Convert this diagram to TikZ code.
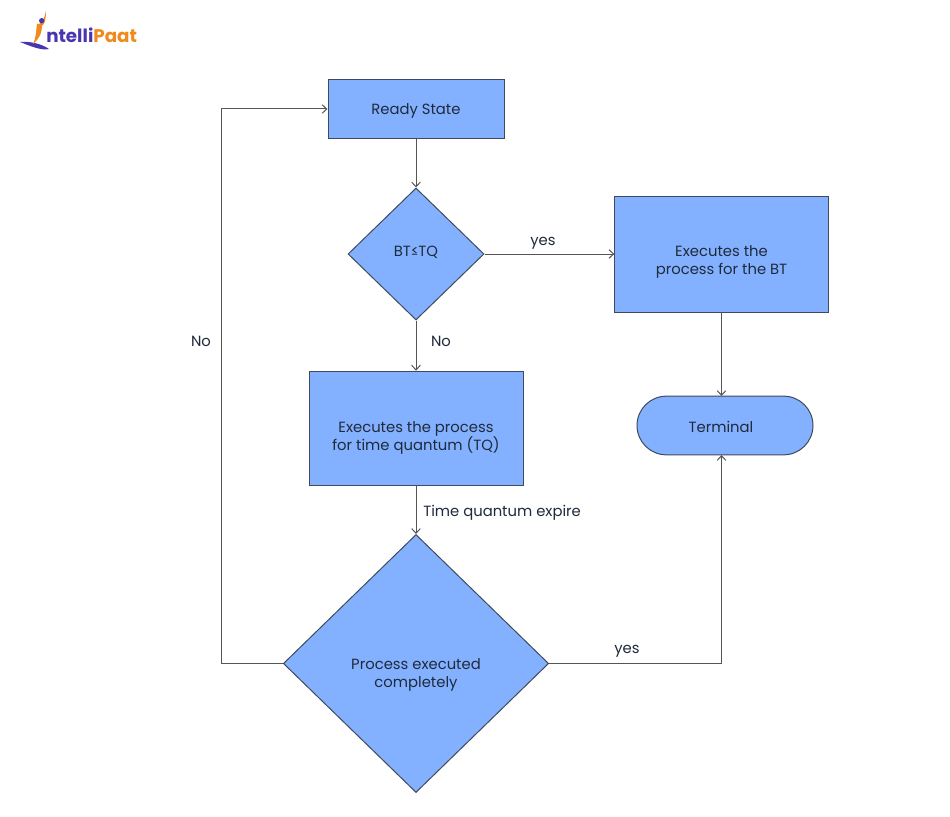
\documentclass[tikz,border=0pt]{standalone}
\usepackage{fontspec}
\setmainfont{Poppins}
\usetikzlibrary{shapes.geometric,arrows.meta}
\definecolor{boxfill}{HTML}{84B1FF}
\definecolor{boxline}{HTML}{3F4A5C}
\definecolor{conn}{HTML}{555555}
\definecolor{txt}{HTML}{1F2A3C}
\definecolor{logoP}{HTML}{4A35B0}
\definecolor{logoO}{HTML}{F08A1D}
\newcommand{\pushdn}[1]{\rule{0pt}{#1}}
\newcommand{\pushup}[1]{\rule[-#1]{0pt}{#1}}
\tikzset{
  x=0.75pt,y=-0.75pt,
  every node/.style={font=\fontsize{11.1pt}{13.5pt}\selectfont,text=txt,align=center},
  procbox/.style={rectangle,draw=boxline,fill=boxfill,line width=0.75pt,inner sep=0pt},
  decide/.style={diamond,draw=boxline,fill=boxfill,line width=0.75pt,inner sep=0pt},
  term/.style={rectangle,rounded corners=22pt,draw=boxline,fill=boxfill,line width=0.75pt,inner sep=0pt},
  conn/.style={draw=conn,line width=0.75pt,-{Straight Barb[length=3.5pt,width=6.5pt]}},
  lbl/.style={inner sep=0pt},
}
\begin{document}
\begin{tikzpicture}
\useasboundingbox (0,0) rectangle (950,817);
\fill[white] (0,0) rectangle (950,817);
% logo
\fill[logoP] (20,42) .. controls (30,41) and (42,44) .. (49,49) .. controls (42,51) and (30,46) .. (20,42) -- cycle;
\fill[logoO] (46,11) .. controls (46,18) and (45,24) .. (42,26) .. controls (42,32) and (40,38) .. (33,44) .. controls (36,38) and (36,32) .. (37,24) .. controls (41,25) and (44,20) .. (46,11) -- cycle;
\fill[logoP] (41.7,20.7) circle (2pt);
\node[lbl,font=\fontsize{13.7pt}{14pt}\bfseries\selectfont,anchor=west,text=logoP] (logo) at (46,35) {ntelli\textcolor{logoO}{Paat}};
% nodes
\node[procbox,minimum width=132pt,minimum height=43.5pt] (ready) at (416,109) {\pushdn{11.2pt}Ready State};
\node[decide,minimum width=102pt,minimum height=99pt] (bt) at (416,254) {BT≤TQ\pushup{3.5pt}};
\node[procbox,minimum width=160pt,minimum height=87pt] (exbt) at (721.5,254) {\pushdn{20.2pt}Executes the\\process for the BT};
\node[term,minimum width=132pt,minimum height=44pt] (terminal) at (725,425.5) {\pushdn{11.2pt}Terminal\hspace*{6pt}};
\node[procbox,minimum width=160.5pt,minimum height=86pt] (extq) at (416,428.5) {\pushdn{21.7pt}Executes the process\\for time quantum (TQ)};
\node[decide,minimum width=199pt,minimum height=193.5pt] (done) at (416,663.5) {\pushdn{24.7pt}Process executed\\completely};
\coordinate (terminaltop) at (721.5,396);
\coordinate (terminalbot) at (721.5,455);
\coordinate (corner1) at (221,663.5);
\coordinate (corner2) at (221,109);
\coordinate (corner3) at (721.5,663.5);
% connectors
\draw[conn] (ready) -- (bt);
\draw[conn] (bt) -- (exbt);
\draw[conn] (bt) -- (extq);
\draw[conn] (extq) -- (done);
\draw[conn] (exbt.south) -- (terminaltop);
\draw[conn] (done.east) -- (corner3) -- (terminalbot);
\draw[conn] (done.west) -- (corner1) -- (corner2) -- (ready.west);
% labels
\node[lbl] (l1) at (543,243) {yes};
\node[lbl] (l2) at (441,341.5) {No};
\node[lbl] (l3) at (201,341.5) {No};
\node[lbl,anchor=west] (l4) at (423,513) {Time quantum expire};
\node[lbl] (l5) at (627,651) {yes};
\end{tikzpicture}
\end{document}
